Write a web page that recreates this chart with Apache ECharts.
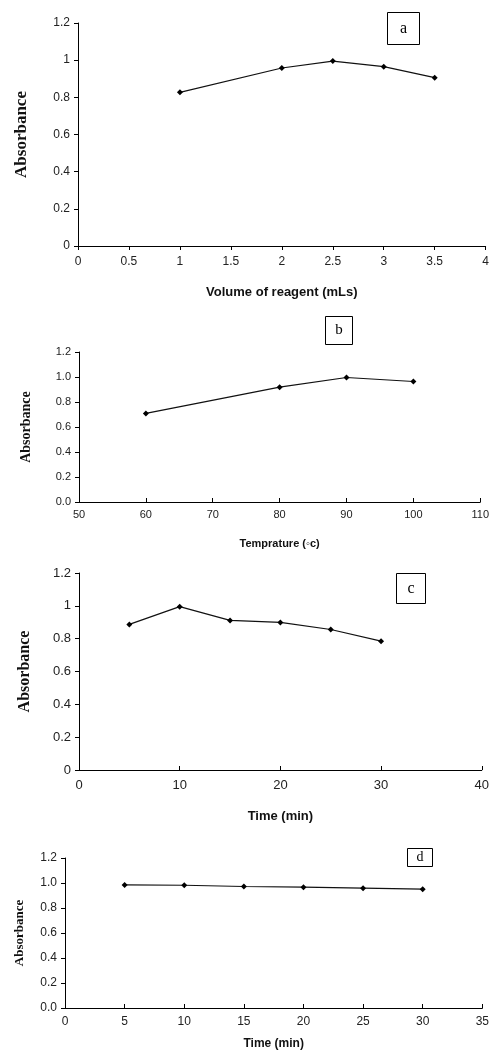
<!DOCTYPE html>
<html>
<head>
<meta charset="utf-8">
<script src="https://cdn.jsdelivr.net/npm/echarts@6/dist/echarts.min.js"></script>
<style>html,body{margin:0;padding:0;background:#fff;}#chart{width:492px;height:1051px;}</style>
</head>
<body>
<div id="chart"></div>
<script>
// Panel a: volume of reagent
const volumeX = [1, 2, 2.5, 3, 3.5];
const volumeAbs = [0.827, 0.958, 0.995, 0.965, 0.906];
// Panel b: temperature
const tempX = [60, 80, 90, 100];
const tempAbs = [0.709, 0.919, 0.996, 0.964];
// Panel c: time
const timeCX = [5, 10, 15, 20, 25, 30];
const timeCAbs = [0.887, 0.995, 0.911, 0.899, 0.856, 0.785];
// Panel d: time (stability)
const timeDX = [5, 10, 15, 20, 25, 30];
const timeDAbs = [0.985, 0.982, 0.972, 0.967, 0.959, 0.951];

const panelLabels = ['a', 'b', 'c', 'd'];
const xTitles = ['Volume of reagent (mLs)', 'Temprature (\u25E6c)', 'Time (min)', 'Time (min)'];
const yTitle = 'Absorbance';
const xRanges = [[0, 4, 0.5], [50, 110, 10], [0, 40, 10], [0, 35, 5]];
const yRanges = [[0, 1.2, 0.2], [0, 1.2, 0.2], [0, 1.2, 0.2], [0, 1.2, 0.2]];
const yDecimals = [false, true, false, true];

const seriesX = [volumeX, tempX, timeCX, timeDX];
const seriesY = [volumeAbs, tempAbs, timeCAbs, timeDAbs];

// layout
const grids = [
  {left: 78, top: 23, width: 412, height: 223},
  {left: 79, top: 352, width: 403, height: 150},
  {left: 79, top: 573, width: 406, height: 197},
  {left: 65, top: 858, width: 422, height: 153}
];
const tickFont = [12, 11, 13, 12];
const yNameFont = [17, 14, 16, 13];
const yNameGap = [48, 46, 46, 39];
const xNameFont = [13, 11, 13, 12];
const xNameGap = [40, 36, 40, 30];
const xLabelMargin = [10, 7, 9, 8];
const xTickInside = [false, true, true, true];
const boxes = [
  {x: 387, y: 12, w: 32, h: 32, fs: 16},
  {x: 325, y: 316, w: 27, h: 28, fs: 15},
  {x: 396, y: 573, w: 29, h: 30, fs: 16},
  {x: 407, y: 848, w: 25, h: 18, fs: 14}
];

const axisLineStyle = {color: '#000', width: 1};
const xAxes = [], yAxes = [], series = [], graphics = [];
for (let i = 0; i < 4; i++) {
  xAxes.push({
    gridIndex: i, type: 'value',
    min: xRanges[i][0], max: xRanges[i][1], interval: xRanges[i][2],
    splitLine: {show: false},
    axisLine: {show: true, onZero: false, lineStyle: axisLineStyle},
    axisTick: {show: true, inside: xTickInside[i], length: 4, lineStyle: axisLineStyle},
    axisLabel: {color: '#222', fontFamily: 'Liberation Sans, Arial, sans-serif', fontSize: tickFont[i], margin: xLabelMargin[i],
      showMaxLabel: true, showMinLabel: true},
    name: xTitles[i], nameLocation: 'middle', nameGap: xNameGap[i],
    nameTextStyle: {color: '#111', fontFamily: 'Liberation Sans, Arial, sans-serif', fontWeight: 'bold', fontSize: xNameFont[i]}
  });
  const dec = yDecimals[i];
  yAxes.push({
    gridIndex: i, type: 'value',
    min: yRanges[i][0], max: yRanges[i][1], interval: yRanges[i][2],
    splitLine: {show: false},
    axisLine: {show: true, lineStyle: axisLineStyle},
    axisTick: {show: true, inside: false, length: 4, lineStyle: axisLineStyle},
    axisLabel: {color: '#222', fontFamily: 'Liberation Sans, Arial, sans-serif', fontSize: tickFont[i], margin: 8,
      formatter: v => dec ? v.toFixed(1) : String(Math.round(v * 10) / 10)},
    name: yTitle, nameLocation: 'middle', nameGap: yNameGap[i], nameRotate: 90,
    nameTextStyle: {color: '#111', fontFamily: 'Liberation Serif, Times New Roman, serif', fontWeight: 'bold', fontSize: yNameFont[i]}
  });
  series.push({
    type: 'line', xAxisIndex: i, yAxisIndex: i,
    data: seriesX[i].map((x, k) => [x, seriesY[i][k]]),
    symbol: 'diamond', symbolSize: 6,
    lineStyle: {color: '#111', width: 1.2},
    itemStyle: {color: '#000'},
    animation: false
  });
  const b = boxes[i];
  graphics.push({
    type: 'group', left: b.x, top: b.y,
    children: [
      {type: 'rect', shape: {x: 0, y: 0, width: b.w, height: b.h}, style: {fill: '#fff', stroke: '#000', lineWidth: 1}},
      {type: 'text', x: b.w / 2, y: b.h / 2, style: {text: panelLabels[i], fill: '#000', font: b.fs + 'px "Liberation Serif", serif', textAlign: 'center', textVerticalAlign: 'middle'}}
    ]
  });
}

const chart = echarts.init(document.getElementById('chart'), null, {renderer: 'canvas'});
chart.setOption({
  animation: false,
  backgroundColor: '#fff',
  grid: grids,
  xAxis: xAxes,
  yAxis: yAxes,
  series: series,
  graphic: graphics
});
</script>
</body>
</html>
